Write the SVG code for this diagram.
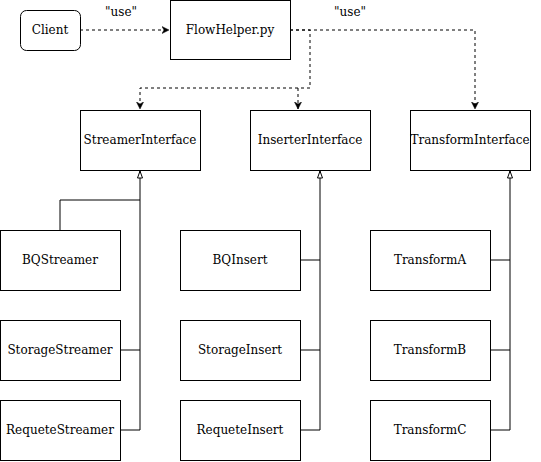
<svg xmlns="http://www.w3.org/2000/svg" width="541" height="462" viewBox="0 0 541 462">
<style>
.box{fill:#fff;stroke:#000;stroke-width:1}
.t{font-family:'DejaVu Serif','Liberation Serif',serif;font-size:12px;fill:#000;text-anchor:middle;dominant-baseline:central}
.dash{fill:none;stroke:#000;stroke-width:1;stroke-dasharray:3 3}
.inh{fill:none;stroke:#000;stroke-width:1}
</style>
<defs>
<marker id="ah" markerWidth="8" markerHeight="8" refX="7" refY="4" orient="auto" markerUnits="userSpaceOnUse">
<path d="M0,0.5 L7,4 L0,7.5 L2,4 Z" fill="#000" stroke="#000" stroke-width="0.5"/>
</marker>
<marker id="tri" markerWidth="10" markerHeight="8" refX="8" refY="4" orient="auto" markerUnits="userSpaceOnUse">
<path d="M1,1.5 L8,4 L1,6.5 Z" fill="#fff" stroke="#000" stroke-width="1"/>
</marker>
</defs>
<g id="connectors">
<path class="dash" d="M80,30 H169" marker-end="url(#ah)"/>
<path class="dash" d="M290,30 H310 V88 H140 V109" marker-end="url(#ah)"/>
<path class="dash" d="M298,88 V109" marker-end="url(#ah)"/>
<path class="dash" d="M290,30 H475 V109" marker-end="url(#ah)"/>
<path class="inh" d="M60,230 V200 H140 V171" marker-end="url(#tri)"/>
<path class="inh" d="M120,350 H140 V200"/>
<path class="inh" d="M120,430 H140 V350"/>
<path class="inh" d="M300,260 H320 V171" marker-end="url(#tri)"/>
<path class="inh" d="M300,350 H320 V260"/>
<path class="inh" d="M300,430 H320 V350"/>
<path class="inh" d="M490,260 H510 V171" marker-end="url(#tri)"/>
<path class="inh" d="M490,350 H510 V260"/>
<path class="inh" d="M490,430 H510 V350"/>
<text class="t" x="121" y="12">"use"</text>
<text class="t" x="350" y="12">"use"</text>
</g>
<g id="client"><rect class="box" x="20.5" y="10.5" width="60" height="40" rx="6"/><text class="t" x="50" y="30">Client</text></g>
<g id="flowhelper"><rect class="box" x="170.5" y="0.5" width="120" height="59"/><text class="t" x="230" y="30">FlowHelper.py</text></g>
<g id="streamerinterface"><rect class="box" x="80.5" y="110.5" width="120" height="60"/><text class="t" x="140" y="140">StreamerInterface</text></g>
<g id="inserterinterface"><rect class="box" x="250.5" y="110.5" width="120" height="60"/><text class="t" x="310" y="140">InserterInterface</text></g>
<g id="transforminterface"><rect class="box" x="410.5" y="110.5" width="120" height="60"/><text class="t" x="470" y="140">TransformInterface</text></g>
<g id="bqstreamer"><rect class="box" x="0.5" y="230.5" width="120" height="60"/><text class="t" x="60" y="260">BQStreamer</text></g>
<g id="storagestreamer"><rect class="box" x="0.5" y="320.5" width="120" height="60"/><text class="t" x="60" y="350">StorageStreamer</text></g>
<g id="requetestreamer"><rect class="box" x="0.5" y="400.5" width="120" height="60"/><text class="t" x="60" y="430">RequeteStreamer</text></g>
<g id="bqinsert"><rect class="box" x="180.5" y="230.5" width="120" height="60"/><text class="t" x="240" y="260">BQInsert</text></g>
<g id="storageinsert"><rect class="box" x="180.5" y="320.5" width="120" height="60"/><text class="t" x="240" y="350">StorageInsert</text></g>
<g id="requeteinsert"><rect class="box" x="180.5" y="400.5" width="120" height="60"/><text class="t" x="240" y="430">RequeteInsert</text></g>
<g id="transforma"><rect class="box" x="370.5" y="230.5" width="120" height="60"/><text class="t" x="430" y="260">TransformA</text></g>
<g id="transformb"><rect class="box" x="370.5" y="320.5" width="120" height="60"/><text class="t" x="430" y="350">TransformB</text></g>
<g id="transformc"><rect class="box" x="370.5" y="400.5" width="120" height="60"/><text class="t" x="430" y="430">TransformC</text></g>
</svg>
